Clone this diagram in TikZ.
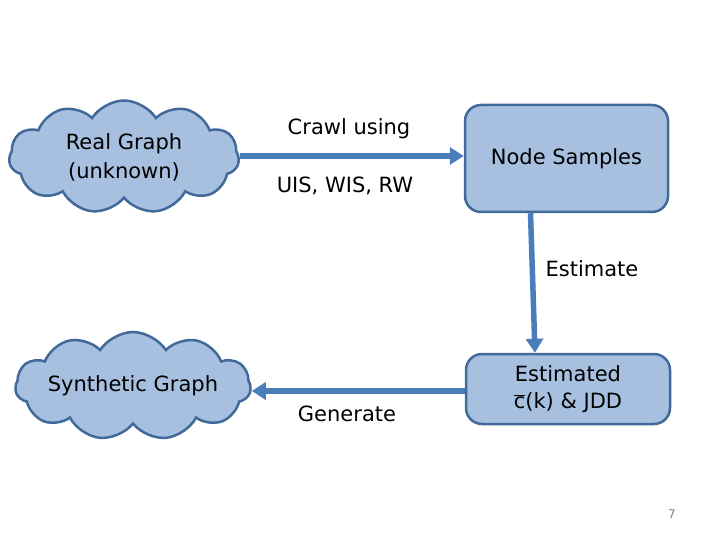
\documentclass[tikz,border=0pt]{standalone}
\usepackage{fontspec}
\setmainfont{DejaVu Sans}
\usetikzlibrary{shapes.symbols,arrows.meta,calc}
\definecolor{boxfill}{HTML}{A8C0E0}
\definecolor{boxline}{HTML}{41699A}
\definecolor{arrcol}{HTML}{4A7EBB}
\tikzset{
  cloudbox/.style={cloud, cloud puffs=11, cloud puff arc=115, cloud ignores aspect, draw=boxline, fill=boxfill, line width=2.5pt, align=center, inner sep=0pt},
  roundbox/.style={rectangle, rounded corners=16pt, draw=boxline, fill=boxfill, line width=2.5pt, align=center},
  arr/.style={draw=arrcol, line width=5.5pt, -{Triangle[length=14pt,width=17pt]}},
  lbl/.style={font=\fontsize{21}{25}\selectfont, align=center}
}
\begin{document}
\begin{tikzpicture}[x=1pt,y=-1pt]
\useasboundingbox (0,0) rectangle (720,540);
\node[cloudbox, minimum width=230pt, minimum height=113pt, font=\fontsize{21}{29}\selectfont] (c1) at (124,157) {Real Graph\\(unknown)};
\node[roundbox, minimum width=203pt, minimum height=107pt, font=\fontsize{21}{25}\selectfont] (ns) at (566.5,158.5) {Node Samples};
\node[roundbox, minimum width=204pt, minimum height=70pt, font=\fontsize{21}{27}\selectfont] (est) at (568,389) {Estimated\\$\overline{\mbox{c}}$(k) \& JDD};
\node[cloudbox, minimum width=230pt, minimum height=108pt, font=\fontsize{21}{25}\selectfont] (c2) at (133,386) {Synthetic Graph};
\draw[arr] (c1.east |- 0,156) -- (ns.west |- 0,156);
\draw[arr] ($(ns.south)+(-36,0)$) -- ($(est.north)+(-33,0)$);
\draw[arr] (est.west |- 0,391) -- (c2.east |- 0,391);
\node[lbl] (l1) at (349,129) {Crawl using};
\node[lbl] (l2) at (345,186) {UIS, WIS, RW};
\node[lbl] (l3) at (592,269) {Estimate};
\node[lbl] (l4) at (347,414) {Generate};
\node[font=\fontsize{12}{14}\selectfont, text=gray] (pg) at (672,514) {7};
\end{tikzpicture}
\end{document}
